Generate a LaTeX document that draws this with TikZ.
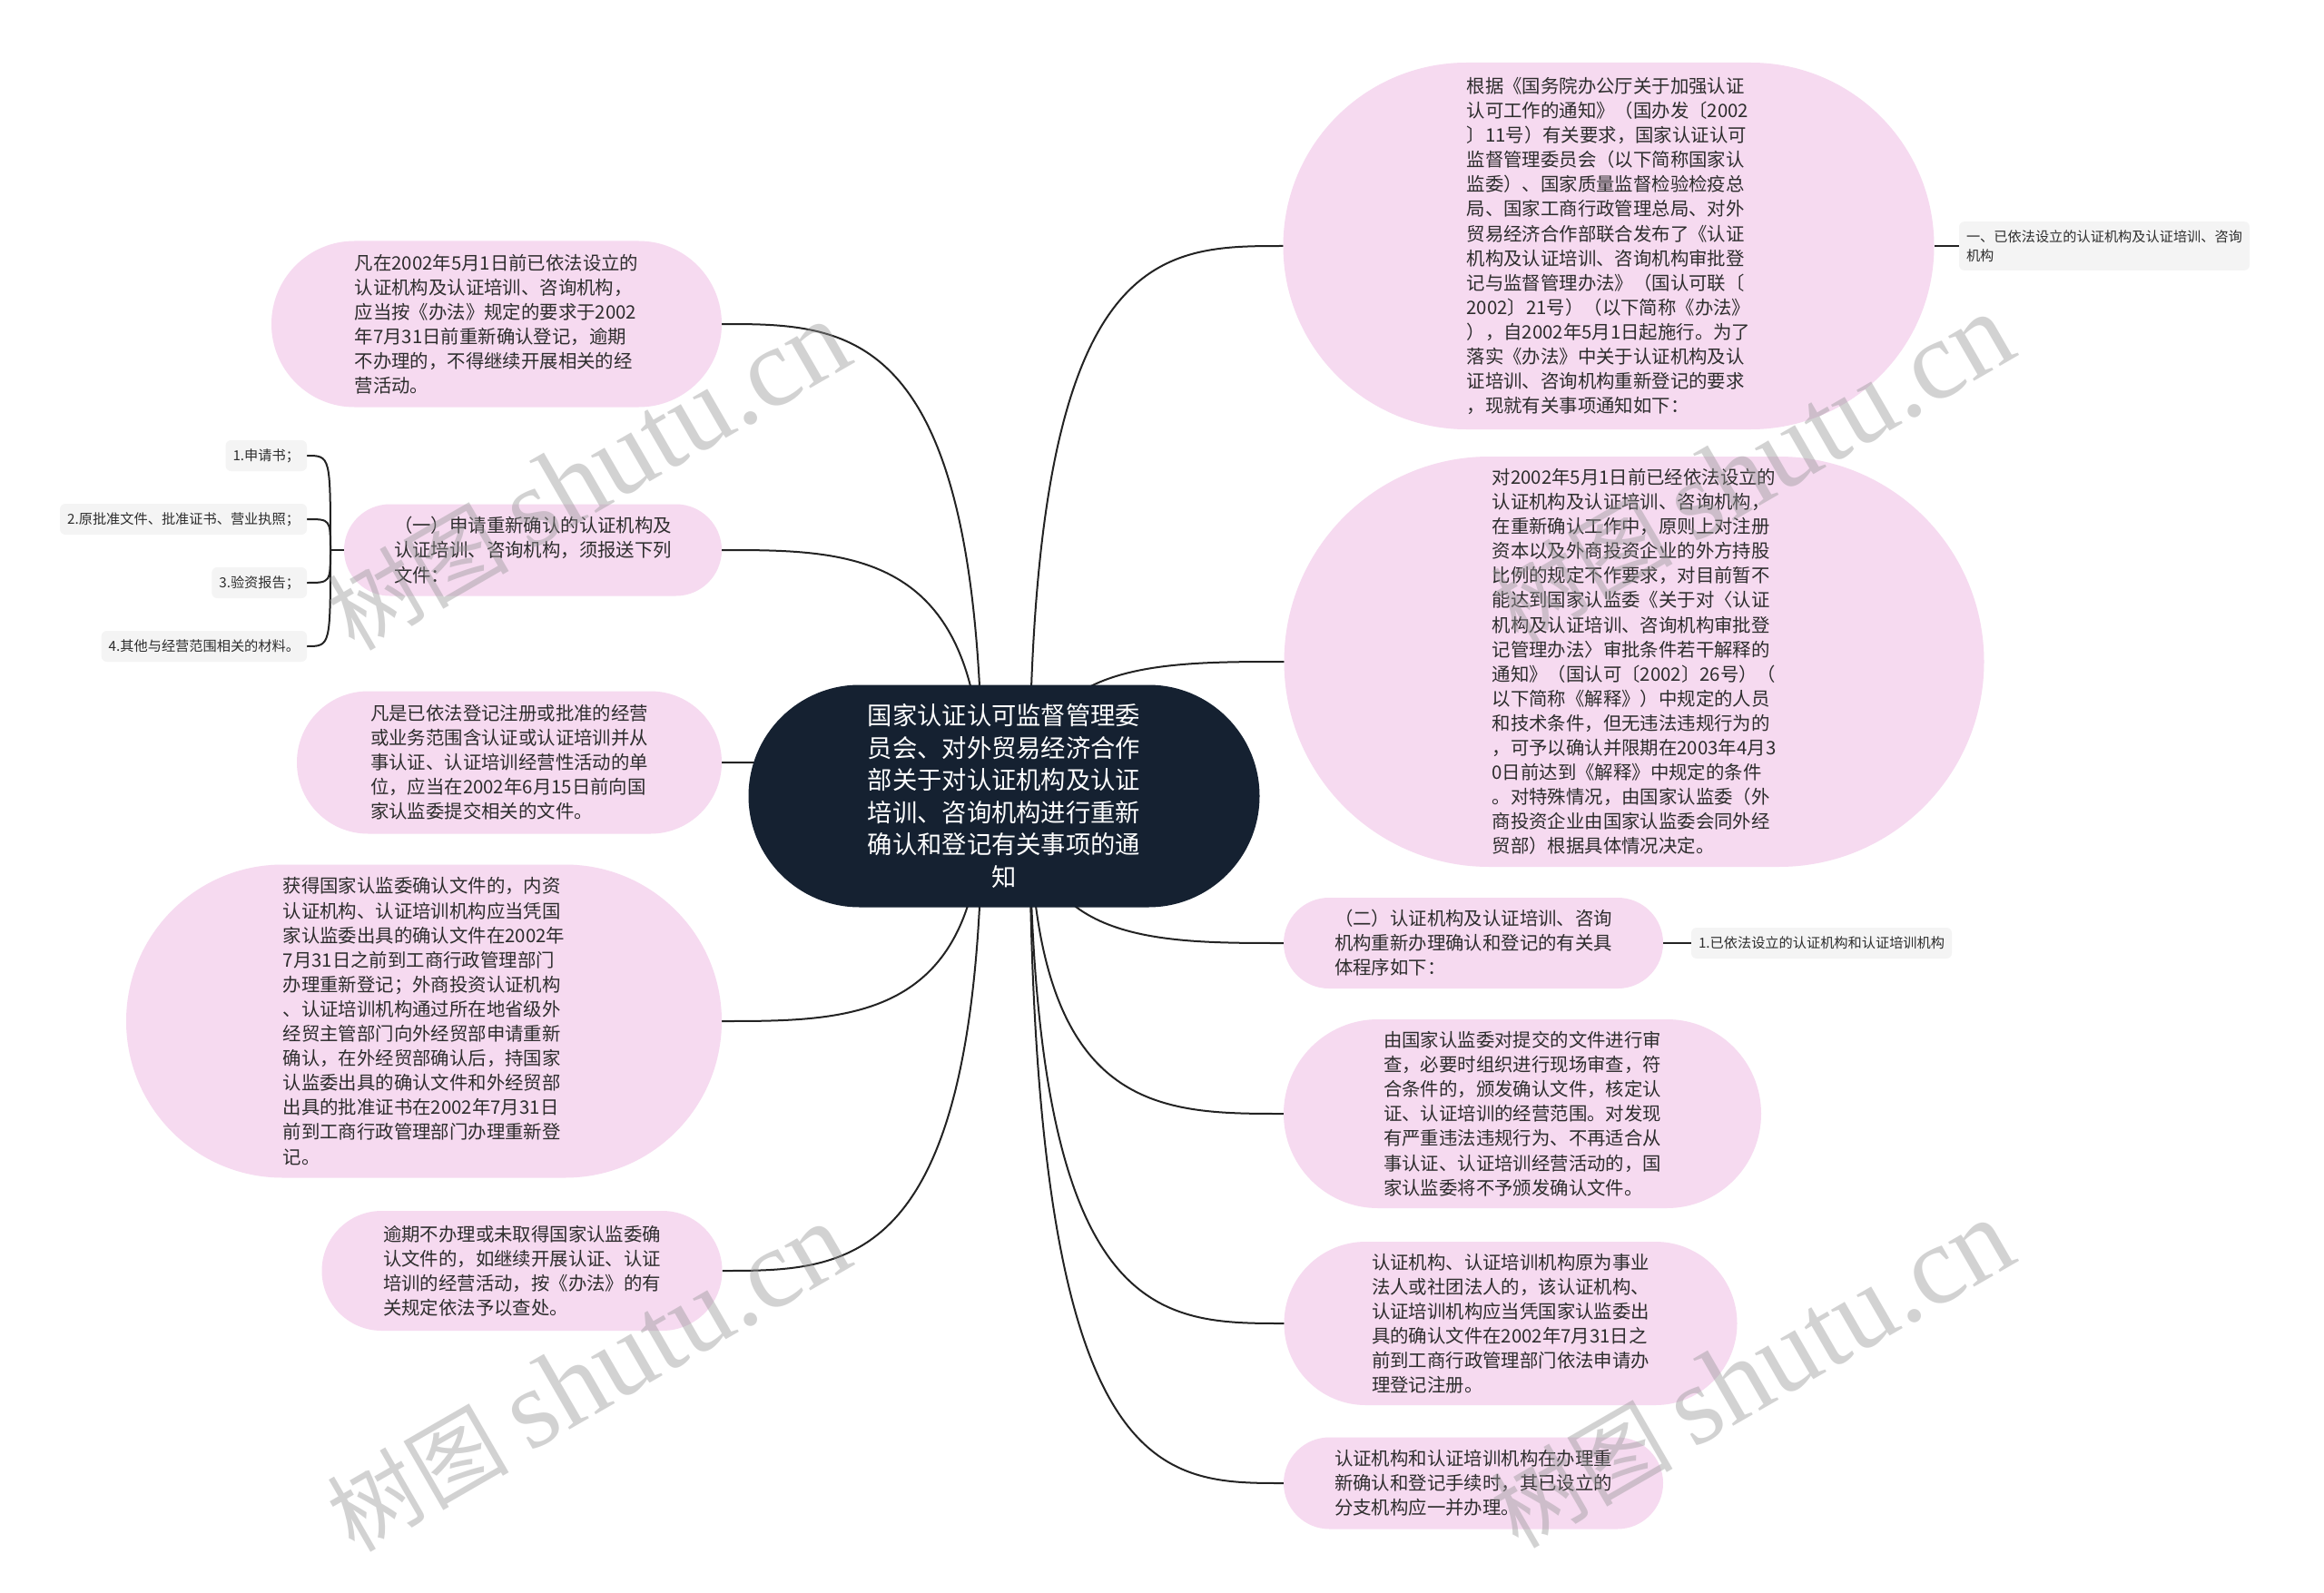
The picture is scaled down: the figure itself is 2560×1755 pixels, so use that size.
\documentclass[tikz,border=0pt]{standalone}
\usepackage{fontspec}
\setmainfont{Noto Sans CJK SC}
\newfontfamily\wmlat{Liberation Serif}
\usetikzlibrary{shapes.misc,calc}
\pgfdeclarelayer{bglayer}
\pgfdeclarelayer{linelayer}
\pgfsetlayers{bglayer,linelayer,main}
\definecolor{pinkc}{RGB}{246,218,240}
\definecolor{navyc}{RGB}{21,33,49}
\definecolor{grayc}{RGB}{244,244,244}
\definecolor{textc}{RGB}{45,45,45}
\definecolor{linec}{RGB}{35,35,35}
\definecolor{wmc}{RGB}{150,150,150}
\newcommand\lconn[1]{\draw[conn] (cl) .. controls (cl |- #1.east) and ($(cl |- #1.east)!0.5!(#1.east)$) .. (#1.east);}
\newcommand\rconn[1]{\draw[conn] (cr) .. controls (cr |- #1.west) and ($(cr |- #1.west)!0.5!(#1.west)$) .. (#1.west);}
\newcommand\brconn[1]{\draw[conn] (jn) .. controls (jn |- #1.east) and (jn |- #1.east) .. (#1.east);}
\begin{document}
\begin{tikzpicture}[x=0.5pt,y=-0.5pt,
  pinknode/.style={rounded rectangle, fill=pinkc, text=textc, align=left, inner sep=0pt, outer sep=0pt, font=\fontsize{10.2pt}{13.55pt}\selectfont},
  ctrnode/.style={rounded rectangle, fill=navyc, text=white, align=center, inner sep=0pt, outer sep=0pt, font=\fontsize{13.65pt}{17.8pt}\selectfont},
  graybox/.style={rectangle, rounded corners=3pt, fill=grayc, text=textc, align=left, inner xsep=4pt, inner ysep=4.5pt, minimum height=17pt, outer sep=0pt, font=\fontsize{7.6pt}{10.8pt}\selectfont},
  conn/.style={draw=linec, line width=1pt},
  wmark/.style={text=wmc, text opacity=0.42, rotate=30, inner sep=0pt}]
\begin{pgfonlayer}{bglayer}
\fill[white] (0,0) rectangle (2560,1755);
\end{pgfonlayer}
\useasboundingbox (0,0) rectangle (2560,1755);

% center
\node[ctrnode, minimum width=281.5pt, minimum height=122.5pt] (ctr) at (1106,877) {国家认证认可监督管理委\\员会、对外贸易经济合作\\部关于对认证机构及认证\\培训、咨询机构进行重新\\确认和登记有关事项的通\\知};

% right side
\node[pinknode, minimum width=358.5pt, minimum height=202pt] (R1) at (1772,271) {根据《国务院办公厅关于加强认证\\认可工作的通知》（国办发〔2002\\〕11号）有关要求，国家认证认可\\监督管理委员会（以下简称国家认\\监委）、国家质量监督检验检疫总\\局、国家工商行政管理总局、对外\\贸易经济合作部联合发布了《认证\\机构及认证培训、咨询机构审批登\\记与监督管理办法》（国认可联〔\\2002〕21号）（以下简称《办法》\\），自2002年5月1日起施行。为了\\落实《办法》中关于认证机构及认\\证培训、咨询机构重新登记的要求\\，现就有关事项通知如下：};
\node[graybox, anchor=west] (R1a) at (2158,271) {一、已依法设立的认证机构及认证培训、咨询\\机构};
\node[pinknode, minimum width=385.5pt, minimum height=226pt] (R2) at (1800,729) {对2002年5月1日前已经依法设立的\\认证机构及认证培训、咨询机构，\\在重新确认工作中，原则上对注册\\资本以及外商投资企业的外方持股\\比例的规定不作要求，对目前暂不\\能达到国家认监委《关于对〈认证\\机构及认证培训、咨询机构审批登\\记管理办法〉审批条件若干解释的\\通知》（国认可〔2002〕26号）（\\以下简称《解释》）中规定的人员\\和技术条件，但无违法违规行为的\\，可予以确认并限期在2003年4月3\\0日前达到《解释》中规定的条件\\。对特殊情况，由国家认监委（外\\商投资企业由国家认监委会同外经\\贸部）根据具体情况决定。};
\node[pinknode, minimum width=209pt, minimum height=50pt] (R3) at (1623,1039) {（二）认证机构及认证培训、咨询\\机构重新办理确认和登记的有关具\\体程序如下：};
\node[graybox, anchor=west] (R3a) at (1863,1039) {1.已依法设立的认证机构和认证培训机构};
\node[pinknode, minimum width=263pt, minimum height=104pt] (R4) at (1677,1227) {由国家认监委对提交的文件进行审\\查，必要时组织进行现场审查，符\\合条件的，颁发确认文件，核定认\\证、认证培训的经营范围。对发现\\有严重违法违规行为、不再适合从\\事认证、认证培训经营活动的，国\\家认监委将不予颁发确认文件。};
\node[pinknode, minimum width=249.5pt, minimum height=90pt] (R5) at (1664,1458) {认证机构、认证培训机构原为事业\\法人或社团法人的，该认证机构、\\认证培训机构应当凭国家认监委出\\具的确认文件在2002年7月31日之\\前到工商行政管理部门依法申请办\\理登记注册。};
\node[pinknode, minimum width=209pt, minimum height=50.5pt] (R6) at (1623,1634) {认证机构和认证培训机构在办理重\\新确认和登记手续时，其已设立的\\分支机构应一并办理。};

% left side
\node[pinknode, minimum width=248pt, minimum height=91.5pt] (L1) at (547,357) {凡在2002年5月1日前已依法设立的\\认证机构及认证培训、咨询机构，\\应当按《办法》规定的要求于2002\\年7月31日前重新确认登记，逾期\\不办理的，不得继续开展相关的经\\营活动。};
\node[pinknode, minimum width=208pt, minimum height=50.5pt] (L2) at (587,606) {（一）申请重新确认的认证机构及\\认证培训、咨询机构，须报送下列\\文件：};
\node[graybox, anchor=east] (c1) at (338,502) {1.申请书；};
\node[graybox, anchor=east] (c2) at (338,572) {2.原批准文件、批准证书、营业执照；};
\node[graybox, anchor=east] (c3) at (338,642) {3.验资报告；};
\node[graybox, anchor=east] (c4) at (338,712) {4.其他与经营范围相关的材料。};
\node[pinknode, minimum width=234pt, minimum height=78.5pt] (L3) at (561,840) {凡是已依法登记注册或批准的经营\\或业务范围含认证或认证培训并从\\事认证、认证培训经营性活动的单\\位，应当在2002年6月15日前向国\\家认监委提交相关的文件。};
\node[pinknode, minimum width=328pt, minimum height=172.5pt] (L4) at (467,1125) {获得国家认监委确认文件的，内资\\认证机构、认证培训机构应当凭国\\家认监委出具的确认文件在2002年\\7月31日之前到工商行政管理部门\\办理重新登记；外商投资认证机构\\、认证培训机构通过所在地省级外\\经贸主管部门向外经贸部申请重新\\确认，在外经贸部确认后，持国家\\认监委出具的确认文件和外经贸部\\出具的批准证书在2002年7月31日\\前到工商行政管理部门办理重新登\\记。};
\node[pinknode, minimum width=220.5pt, minimum height=66pt] (L5) at (575,1400) {逾期不办理或未取得国家认监委确\\认文件的，如继续开展认证、认证\\培训的经营活动，按《办法》的有\\关规定依法予以查处。};

% connectors
\coordinate (cl) at ([xshift=-12pt]ctr.center);
\coordinate (cr) at ([xshift=14pt]ctr.center);
\coordinate (jn) at ([xshift=-7.5pt]L2.west);
\begin{pgfonlayer}{linelayer}
\lconn{L1}
\lconn{L2}
\lconn{L3}
\lconn{L4}
\lconn{L5}
\rconn{R1}
\rconn{R2}
\rconn{R3}
\rconn{R4}
\rconn{R5}
\rconn{R6}
\draw[conn] (R1.east) -- (R1a.west);
\draw[conn] (R3.east) -- (R3a.west);
\draw[conn] (L2.west) -- (jn);
\brconn{c1}
\brconn{c2}
\brconn{c3}
\brconn{c4}
\end{pgfonlayer}

% watermarks
\node[wmark] (w1) at (648,525) {\fontsize{50pt}{54pt}\selectfont 树图 {\wmlat\fontsize{62pt}{64pt}\selectfont shutu.cn}};
\node[wmark] (w2) at (1930,517) {\fontsize{50pt}{54pt}\selectfont 树图 {\wmlat\fontsize{62pt}{64pt}\selectfont shutu.cn}};
\node[wmark] (w3) at (648,1518) {\fontsize{50pt}{54pt}\selectfont 树图 {\wmlat\fontsize{62pt}{64pt}\selectfont shutu.cn}};
\node[wmark] (w4) at (1930,1514) {\fontsize{50pt}{54pt}\selectfont 树图 {\wmlat\fontsize{62pt}{64pt}\selectfont shutu.cn}};
\end{tikzpicture}
\end{document}
